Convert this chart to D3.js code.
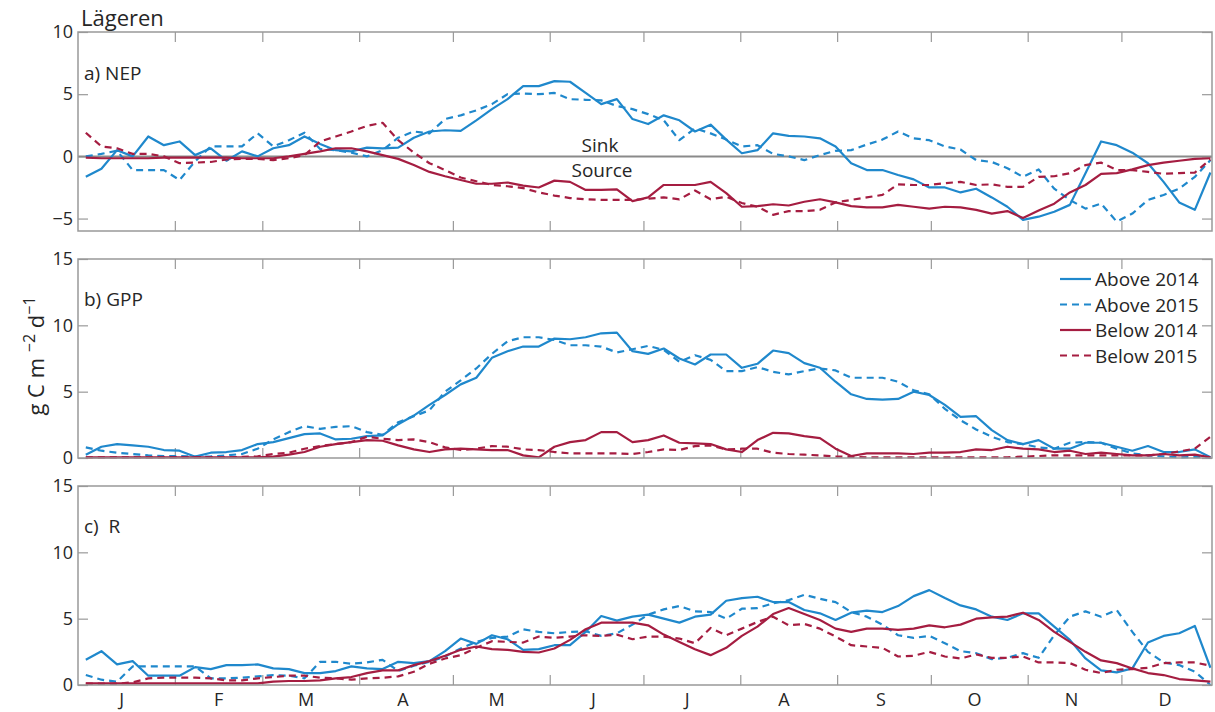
<!DOCTYPE html>
<html lang="en">
<head>
<meta charset="UTF-8">
<title>Lägeren</title>
<script src="https://d3js.org/d3.v7.min.js"></script>
<style>
    body { margin: 0; background: #fff; }
    text { font-family: "Open Sans", "Noto Sans", sans-serif; fill: #262626; }
</style>
</head>
<body>
<div id="chart"></div>
<script>
    // day of year (0-based offset) of each 5-day value
    var days = [2.5, 7.5, 12.5, 17.5, 22.5, 27.5, 32.5, 37.5, 42.5, 47.5,
        52.5, 57.5, 62.5, 67.5, 72.5, 77.5, 82.5, 87.5, 92.5, 97.5,
        102.5, 107.5, 112.5, 117.5, 122.5, 127.5, 132.5, 137.5, 142.5, 147.5,
        152.5, 157.5, 162.5, 167.5, 172.5, 177.5, 182.5, 187.5, 192.5, 197.5,
        202.5, 207.5, 212.5, 217.5, 222.5, 227.5, 232.5, 237.5, 242.5, 247.5,
        252.5, 257.5, 262.5, 267.5, 272.5, 277.5, 282.5, 287.5, 292.5, 297.5,
        302.5, 307.5, 312.5, 317.5, 322.5, 327.5, 332.5, 337.5, 342.5, 347.5,
        352.5, 357.5, 362.5];

    var monthStarts = [31, 59, 90, 120, 151, 181, 212, 243, 273, 304, 334];
    var monthMids = [14, 45, 73, 104, 134, 165, 195, 226, 257, 287, 318, 348];
    var monthLabels = ["J", "F", "M", "A", "M", "J", "J", "A", "S", "O", "N", "D"];

    var seriesNames = ["Above 2014", "Above 2015", "Below 2014", "Below 2015"];

    // a) NEP
    var nepAbove2014 = [-1.64, -1.0, 0.5, 0.0, 1.6, 0.9, 1.2, 0.1, 0.65, -0.35,
        0.4, 0.0, 0.65, 0.9, 1.6, 1.0, 0.5, 0.4, 0.7, 0.65,
        0.7, 1.5, 2.0, 2.1, 2.05, 2.9, 3.8, 4.6, 5.65, 5.65,
        6.05, 6.0, 5.1, 4.2, 4.6, 3.0, 2.6, 3.3, 2.9, 2.0,
        2.55, 1.35, 0.25, 0.5, 1.85, 1.65, 1.6, 1.45, 0.8, -0.55,
        -1.1, -1.1, -1.5, -1.85, -2.5, -2.5, -2.9, -2.6, -3.3, -4.05,
        -5.1, -4.85, -4.45, -3.9, -1.35, 1.2, 0.9, 0.3, -0.55, -2.05,
        -3.7, -4.3, -1.3];
    var nepAbove2015 = [0.0, 0.2, 0.45, -1.1, -1.1, -1.1, -1.9, -0.4, 0.8, 0.8,
        0.8, 1.85, 0.8, 1.3, 1.9, 0.6, 0.5, 0.3, 0.0, 0.5,
        1.5, 2.0, 1.85, 3.0, 3.3, 3.7, 4.2, 5.0, 5.05, 5.0,
        5.1, 4.6, 4.55, 4.5, 4.05, 3.8, 3.4, 2.9, 1.3, 2.25,
        1.85, 1.35, 0.8, 0.9, 0.2, 0.0, -0.3, 0.1, 0.45, 0.5,
        0.95, 1.35, 2.0, 1.45, 1.3, 0.8, 0.55, -0.3, -0.45, -0.95,
        -1.65, -1.05, -2.6, -3.5, -4.2, -3.8, -5.25, -4.6, -3.5, -3.1,
        -2.6, -1.65, -0.3];
    var nepBelow2014 = [-0.1, -0.15, -0.15, -0.15, -0.15, -0.1, -0.1, -0.1, -0.1, -0.1,
        -0.15, -0.15, -0.15, 0.0, 0.2, 0.4, 0.65, 0.65, 0.4, 0.1,
        -0.2, -0.7, -1.25, -1.6, -1.9, -2.2, -2.2, -2.1, -2.35, -2.5,
        -1.95, -2.05, -2.7, -2.7, -2.65, -3.6, -3.3, -2.3, -2.3, -2.3,
        -2.05, -2.95, -4.05, -4.0, -3.85, -3.95, -3.65, -3.45, -3.7, -4.0,
        -4.1, -4.1, -3.9, -4.05, -4.2, -4.05, -4.1, -4.3, -4.6, -4.4,
        -4.95, -4.35, -3.8, -2.9, -2.3, -1.4, -1.35, -1.05, -0.7, -0.5,
        -0.35, -0.2, -0.15];
    var nepBelow2015 = [1.9, 0.8, 0.65, 0.2, 0.2, 0.0, -0.55, -0.5, -0.45, -0.25,
        -0.2, -0.2, -0.3, -0.15, 0.1, 1.2, 1.6, 2.0, 2.45, 2.7,
        1.3, 0.3, -0.55, -1.1, -1.7, -2.0, -2.3, -2.4, -2.55, -2.9,
        -3.15, -3.35, -3.45, -3.5, -3.5, -3.5, -3.4, -3.3, -3.45, -2.75,
        -3.45, -3.25, -3.75, -4.05, -4.7, -4.4, -4.4, -4.3, -3.7, -3.5,
        -3.3, -3.1, -2.25, -2.3, -2.3, -2.15, -2.05, -2.3, -2.25, -2.45,
        -2.45, -1.65, -1.6, -1.35, -0.7, -0.5, -1.1, -1.1, -1.25, -1.4,
        -1.35, -1.3, -0.25];

    // b) GPP
    var gppAbove2014 = [0.25, 0.85, 1.05, 0.95, 0.85, 0.6, 0.55, 0.1, 0.4, 0.45,
        0.6, 1.05, 1.2, 1.5, 1.8, 1.85, 1.4, 1.45, 1.65, 1.7,
        2.55, 3.2, 4.0, 4.75, 5.55, 6.05, 7.55, 8.05, 8.4, 8.4,
        9.0, 8.95, 9.1, 9.4, 9.45, 8.05, 7.85, 8.25, 7.5, 7.05,
        7.8, 7.8, 6.8, 7.1, 8.1, 7.9, 7.15, 6.8, 5.75, 4.8,
        4.45, 4.4, 4.45, 5.0, 4.75, 4.0, 3.1, 3.15, 2.1, 1.35,
        1.05, 1.35, 0.7, 0.7, 1.15, 1.15, 0.85, 0.55, 0.9, 0.45,
        0.45, 0.65, 0.05];
    var gppAbove2015 = [0.8, 0.55, 0.4, 0.3, 0.2, 0.15, 0.15, 0.1, 0.12, 0.2,
        0.3, 0.7, 1.4, 1.95, 2.4, 2.2, 2.35, 2.4, 1.95, 1.75,
        2.7, 3.15, 3.6, 5.0, 5.85, 6.75, 7.85, 8.8, 9.1, 9.1,
        8.9, 8.5, 8.5, 8.4, 7.95, 8.2, 8.45, 8.15, 7.25, 7.75,
        7.4, 6.55, 6.55, 6.85, 6.5, 6.3, 6.55, 6.75, 6.6, 6.05,
        6.05, 6.05, 5.75, 5.1, 4.8, 3.7, 2.85, 2.15, 1.6, 1.2,
        1.05, 0.8, 0.7, 1.15, 1.2, 1.15, 0.7, 0.35, 0.2, 0.12,
        0.05, 0.07, 0.05];
    var gppBelow2014 = [0.05, 0.05, 0.05, 0.05, 0.05, 0.05, 0.05, 0.05, 0.05, 0.05,
        0.05, 0.05, 0.1, 0.25, 0.45, 0.85, 1.05, 1.2, 1.35, 1.3,
        0.95, 0.65, 0.45, 0.65, 0.7, 0.65, 0.6, 0.6, 0.2, 0.05,
        0.85, 1.2, 1.35, 1.95, 1.95, 1.2, 1.35, 1.7, 1.15, 1.1,
        1.05, 0.65, 0.45, 1.35, 1.9, 1.85, 1.65, 1.5, 0.7, 0.15,
        0.35, 0.35, 0.35, 0.3, 0.4, 0.4, 0.45, 0.65, 0.6, 0.85,
        0.7, 0.65, 0.45, 0.55, 0.3, 0.4, 0.3, 0.2, 0.2, 0.3,
        0.2, 0.25, 0.05];
    var gppBelow2015 = [0.05, 0.05, 0.05, 0.05, 0.05, 0.05, 0.05, 0.05, 0.05, 0.05,
        0.08, 0.12, 0.3, 0.4, 0.7, 0.9, 1.05, 1.2, 1.6, 1.45,
        1.35, 1.4, 1.2, 0.8, 0.6, 0.7, 0.9, 0.85, 0.65, 0.6,
        0.45, 0.35, 0.35, 0.35, 0.35, 0.3, 0.45, 0.65, 0.6, 0.9,
        0.95, 0.65, 0.7, 0.7, 0.4, 0.3, 0.25, 0.2, 0.12, 0.08,
        0.05, 0.05, 0.05, 0.05, 0.05, 0.05, 0.05, 0.05, 0.05, 0.05,
        0.1, 0.15, 0.2, 0.2, 0.2, 0.2, 0.2, 0.2, 0.2, 0.3,
        0.5, 0.7, 1.6];

    // c) R
    var rAbove2014 = [1.9, 2.55, 1.55, 1.8, 0.7, 0.7, 0.7, 1.35, 1.2, 1.5,
        1.5, 1.55, 1.25, 1.2, 0.9, 0.9, 1.05, 1.4, 1.25, 1.2,
        1.75, 1.65, 1.8, 2.55, 3.5, 3.1, 3.75, 3.45, 2.65, 2.7,
        3.0, 3.0, 4.0, 5.2, 4.85, 5.15, 5.3, 5.0, 4.7, 5.15,
        5.3, 6.35, 6.55, 6.65, 6.25, 6.25, 5.65, 5.4, 4.9, 5.45,
        5.6, 5.5, 5.95, 6.7, 7.15, 6.55, 6.0, 5.7, 5.15, 4.9,
        5.4, 5.4, 4.4, 3.4, 2.0, 1.1, 0.95, 1.25, 3.2, 3.7,
        3.9, 4.45, 1.3];
    var rAbove2015 = [0.75, 0.4, 0.25, 1.4, 1.4, 1.4, 1.4, 1.4, 0.5, 0.5,
        0.55, 0.65, 0.75, 0.7, 0.5, 1.75, 1.75, 1.6, 1.7, 1.9,
        1.05, 1.45, 1.75, 2.15, 2.75, 3.25, 3.55, 3.65, 4.2, 4.0,
        3.9, 4.0, 4.05, 3.7, 3.9, 4.55, 5.3, 5.7, 5.95, 5.55,
        5.5, 5.0, 5.75, 5.8, 6.15, 6.4, 6.8, 6.5, 6.25, 5.5,
        5.15, 4.55, 3.75, 3.55, 3.7, 3.15, 2.55, 2.4, 1.95, 2.05,
        2.4, 2.05, 3.75, 5.15, 5.55, 5.15, 5.65, 4.0, 2.5, 1.7,
        1.5, 1.0, 0.0];
    var rBelow2014 = [0.12, 0.12, 0.12, 0.12, 0.12, 0.12, 0.12, 0.12, 0.12, 0.12,
        0.12, 0.12, 0.25, 0.3, 0.3, 0.35, 0.5, 0.6, 0.9, 1.1,
        1.1, 1.5, 1.8, 2.2, 2.65, 2.9, 2.7, 2.65, 2.5, 2.45,
        2.75, 3.4, 4.2, 4.7, 4.7, 4.7, 4.5, 3.8, 3.25, 2.7,
        2.25, 2.8, 3.7, 4.4, 5.35, 5.8, 5.35, 4.9, 4.25, 4.0,
        4.25, 4.25, 4.15, 4.25, 4.5, 4.35, 4.55, 5.0, 5.1, 5.15,
        5.45, 4.9, 4.0, 3.25, 2.5, 1.85, 1.65, 1.25, 0.9, 0.75,
        0.45, 0.35, 0.25];
    var rBelow2015 = [0.1, 0.1, 0.1, 0.2, 0.5, 0.55, 0.55, 0.55, 0.5, 0.35,
        0.35, 0.5, 0.6, 0.7, 0.7, 0.55, 0.5, 0.4, 0.5, 0.55,
        0.65, 1.0, 1.6, 2.0, 2.25, 2.8, 3.3, 3.25, 3.2, 3.65,
        3.55, 3.65, 3.75, 3.7, 3.8, 3.45, 3.65, 3.65, 3.5, 3.15,
        4.3, 3.75, 4.25, 4.75, 5.15, 4.5, 4.6, 4.25, 3.65, 3.0,
        2.9, 2.8, 2.15, 2.2, 2.5, 2.15, 2.0, 2.3, 2.05, 2.05,
        2.15, 1.7, 1.7, 1.65, 1.15, 0.9, 1.15, 1.2, 1.3, 1.65,
        1.7, 1.7, 1.45];

    var W = 1215, H = 712;
    var left = 78, right = 1212, panelH = 199;
    var blue = "#1f88cc", red = "#a51d41", axisGray = "#999999";
    var colors = [blue, blue, red, red];
    var dashes = [null, "7,5", null, "7,5"];

    var panels = [
        { label: "a) NEP", top: 32, domain: [-6, 10], ticks: [-5, 0, 5, 10],
          data: [nepAbove2014, nepAbove2015, nepBelow2014, nepBelow2015] },
        { label: "b) GPP", top: 259, domain: [0, 15], ticks: [0, 5, 10, 15],
          data: [gppAbove2014, gppAbove2015, gppBelow2014, gppBelow2015] },
        { label: "c)  R", top: 486, domain: [0, 15], ticks: [0, 5, 10, 15],
          data: [rAbove2014, rAbove2015, rBelow2014, rBelow2015] }
    ];

    var svg = d3.select("#chart").append("svg")
        .attr("width", W)
        .attr("height", H);

    var x = d3.scaleLinear().domain([0, 363]).range([left, right]);

    function styleAxis(g) {
        g.select(".domain").remove();
        g.selectAll(".tick line").attr("stroke", axisGray).attr("stroke-width", 1.2);
        g.selectAll("text")
            .attr("font-family", "'Open Sans', sans-serif")
            .attr("font-size", "18px")
            .attr("fill", "#262626");
        g.attr("font-family", null).attr("font-size", null);
    }

    panels.forEach(function(p, pi) {
        var bottom = p.top + panelH;
        var y = d3.scaleLinear().domain(p.domain).range([bottom, p.top]);

        svg.append("g")
            .attr("transform", `translate(${left},0)`)
            .call(d3.axisLeft(y).tickValues(p.ticks).tickSizeInner(-10).tickSizeOuter(0).tickPadding(5))
            .call(styleAxis);

        svg.append("g")
            .attr("transform", `translate(${right},0)`)
            .call(d3.axisRight(y).tickValues(p.ticks).tickSizeInner(-10).tickSizeOuter(0).tickFormat(""))
            .call(styleAxis);

        svg.append("g")
            .attr("transform", `translate(0,${p.top})`)
            .call(d3.axisTop(x).tickValues(monthStarts).tickSizeInner(-10).tickSizeOuter(0).tickFormat(""))
            .call(styleAxis);

        svg.append("g")
            .attr("transform", `translate(0,${bottom})`)
            .call(d3.axisBottom(x).tickValues(monthStarts).tickSizeInner(-10).tickSizeOuter(0).tickFormat(""))
            .call(styleAxis);

        // zero line (sink / source) in NEP panel
        if (pi === 0) {
            svg.append("line")
                .attr("x1", left).attr("x2", right)
                .attr("y1", y(0)).attr("y2", y(0))
                .attr("stroke", "#8a8a8a")
                .attr("stroke-width", 2);

            svg.append("text")
                .attr("x", 600).attr("y", 152)
                .attr("text-anchor", "middle")
                .attr("font-size", "19px")
                .text("Sink");
            svg.append("text")
                .attr("x", 602).attr("y", 177)
                .attr("text-anchor", "middle")
                .attr("font-size", "19px")
                .text("Source");
        }

        var line = d3.line()
            .x(function(d, i) { return x(days[i]); })
            .y(function(d) { return y(d); });

        p.data.forEach(function(values, si) {
            svg.append("path")
                .datum(values)
                .attr("d", line)
                .attr("fill", "none")
                .attr("stroke", colors[si])
                .attr("stroke-width", 2.2)
                .attr("stroke-linejoin", "round")
                .attr("stroke-dasharray", dashes[si]);
        });

        // frame
        svg.append("rect")
            .attr("x", left).attr("y", p.top)
            .attr("width", right - left).attr("height", panelH)
            .attr("fill", "none")
            .attr("stroke", axisGray)
            .attr("stroke-width", 1.5);

        svg.append("text")
            .attr("x", 84)
            .attr("y", p.top + (pi === 0 ? 48 : 47))
            .attr("font-size", "19px")
            .attr("xml:space", "preserve")
            .style("white-space", "pre")
            .text(p.label);

        if (pi === 2) {
            svg.selectAll(".mlabel")
                .data(monthLabels)
                .enter()
                .append("text")
                .attr("class", "mlabel")
                .attr("x", function(d, i) { return x(monthMids[i]); })
                .attr("y", 706)
                .attr("text-anchor", "middle")
                .attr("font-size", "18px")
                .text(function(d) { return d; });
        }
    });

    // title
    svg.append("text")
        .attr("x", 81).attr("y", 26)
        .attr("font-size", "22px")
        .text("Lägeren");

    // y axis label
    var ylab = svg.append("text")
        .attr("transform", "translate(44,356) rotate(-90)")
        .attr("text-anchor", "middle")
        .attr("font-size", "22px");
    ylab.append("tspan").text("g C m ");
    ylab.append("tspan").attr("dy", -9).attr("font-size", "16px").text("\u22122");
    ylab.append("tspan").attr("dy", 9).text(" d");
    ylab.append("tspan").attr("dy", -9).attr("font-size", "16px").text("\u22121");

    // legend
    var legend = svg.append("g");
    seriesNames.forEach(function(name, i) {
        var ly = 279 + i * 25.5;
        legend.append("line")
            .attr("x1", 1060).attr("x2", 1091)
            .attr("y1", ly).attr("y2", ly)
            .attr("stroke", colors[i])
            .attr("stroke-width", 2.2)
            .attr("stroke-dasharray", dashes[i]);
        legend.append("text")
            .attr("x", 1095).attr("y", ly + 7)
            .attr("font-size", "19px")
            .text(name);
    });
</script>
</body>
</html>
